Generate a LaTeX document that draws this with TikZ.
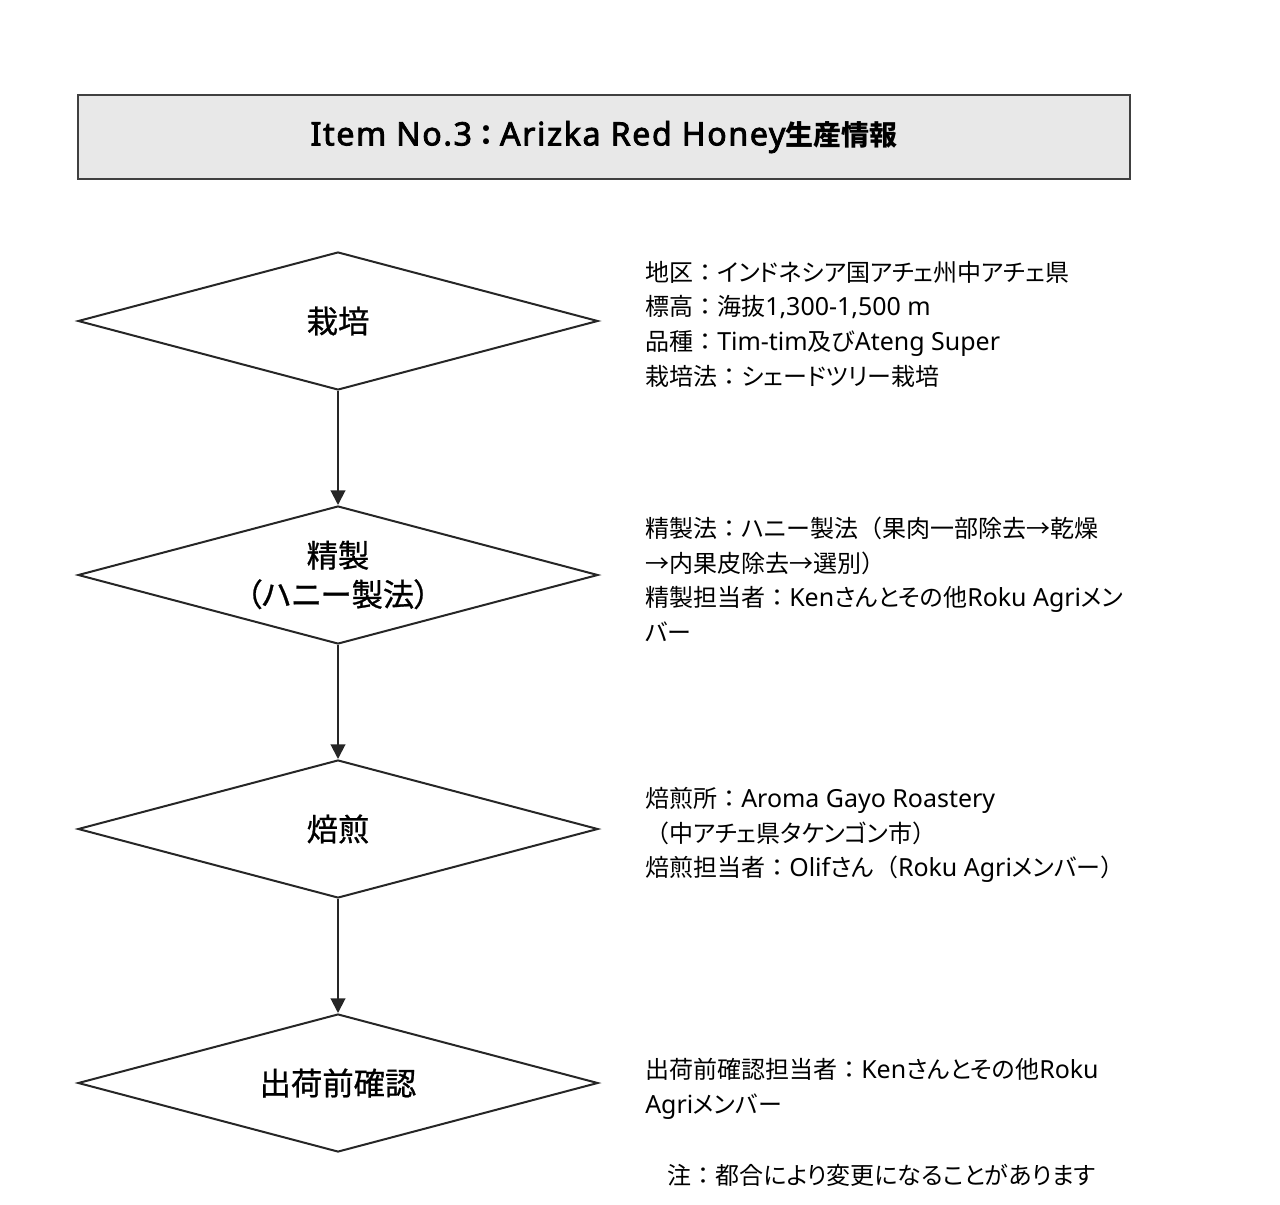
\documentclass[tikz,border=0pt]{standalone}
\usepackage{fontspec}
\setmainfont{Noto Sans CJK JP}
\newfontfamily\infofont[RawFeature=+palt]{Noto Sans CJK JP}
\newfontfamily\fullfont{Noto Sans CJK JP}
\newfontfamily\stagefont[RawFeature=+palt, FakeBold=0.8]{Noto Sans CJK JP}
\newfontfamily\latinfont[Scale=1.04]{Noto Sans}
\newfontfamily\latinbold[Scale=1.15, LetterSpace=5, FakeBold=2.5]{Noto Sans}
\newcommand\lat[1]{{\latinfont #1}}
\newcommand\latb[1]{{\latinbold #1}}
\newcommand\zen[1]{{\fullfont #1}}
\usetikzlibrary{shapes.geometric,arrows.meta}
\begin{document}
\begin{tikzpicture}[x=0.75pt, y=-0.75pt,
    stage/.style={diamond, draw=black!85, line width=1.5pt, aspect=3.77,
      minimum width=390pt, minimum height=103.5pt, inner sep=0pt,
      align=center, font=\stagefont\fontsize{23.5}{29.3}\selectfont},
    info/.style={anchor=north west, inner sep=0pt, align=left,
      font=\infofont\fontsize{18}{25.9}\selectfont},
    flow/.style={draw=black!85, line width=1.5pt, -{Triangle[width=11pt,length=11pt]}}]
        \useasboundingbox (0, 0) rectangle (1280, 1205);
        \node [draw=black!75, line width=1.5pt, fill=black!9, minimum width=789pt,
          minimum height=63pt, font=\bfseries\fontsize{21}{25}\selectfont]
          (title) at (604, 137) {\latb{Item No.3}：\latb{Arizka Red Honey}生産情報};
        \node [stage] (grow) at (338, 321) {栽培};
        \node [stage] (refine) at (338, 575) {精製\\（ハニー製法）};
        \node [stage] (roast) at (338, 829) {焙煎};
        \node [stage] (ship) at (338, 1083) {出荷前確認};
        \draw [flow] (grow.south) -- (refine.north);
        \draw [flow] (refine.south) -- (roast.north);
        \draw [flow] (roast.south) -- (ship.north);
        \node [info] (growinfo) at (645, 261) {地区\zen{：}インドネシア国アチェ州中アチェ県\\
          標高\zen{：}海抜\lat{1,300-1,500 m}\\品種\zen{：}\lat{Tim-tim}及び\lat{Ateng Super}\\栽培法\zen{：}シェードツリー栽培};
        \node [info] (refineinfo) at (645, 517) {精製法\zen{：}ハニー製法\zen{（}果肉一部除去→乾燥\\
          →内果皮除去→選別\zen{）}\\精製担当者\zen{：}\lat{Ken}さんとその他\lat{Roku Agri}メン\\バー};
        \node [info] (roastinfo) at (645, 787) {焙煎所\zen{：}\lat{Aroma Gayo Roastery}\\
          \zen{（}中アチェ県タケンゴン市\zen{）}\\焙煎担当者\zen{：}\lat{Olif}さん\zen{（}\lat{Roku Agri}メンバー\zen{）}};
        \node [info] (shipinfo) at (645, 1058) {出荷前確認担当者\zen{：}\lat{Ken}さんとその他\lat{Roku}\\\lat{Agri}メンバー};
        \node [info] (note) at (667, 1164) {注\zen{：}都合により変更になることがあります};
      \end{tikzpicture}
\end{document}
